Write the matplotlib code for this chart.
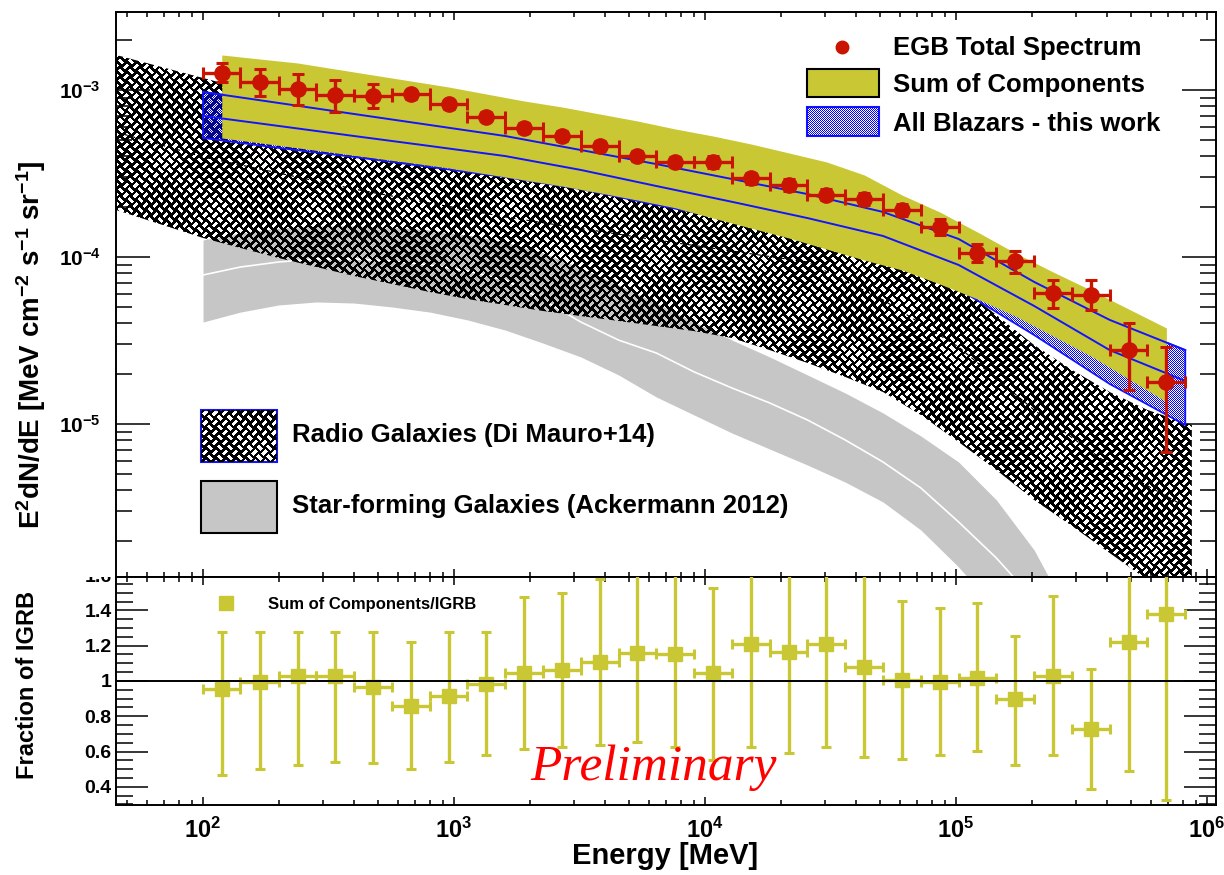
import numpy as np
import matplotlib
matplotlib.use("Agg")
import matplotlib.pyplot as plt
from matplotlib.patches import Rectangle
from matplotlib.ticker import LogLocator, MultipleLocator, FuncFormatter, NullFormatter

W, H = 1224, 875

plt.rcParams["font.family"] = ["Liberation Sans", "DejaVu Sans"]
plt.rcParams["font.weight"] = "bold"
plt.rcParams["mathtext.fontset"] = "custom"
plt.rcParams["mathtext.rm"] = "Liberation Sans:bold"
plt.rcParams["mathtext.bf"] = "Liberation Sans:bold"
plt.rcParams["mathtext.it"] = "Liberation Sans:bold:italic"
plt.rcParams["mathtext.sf"] = "Liberation Sans:bold"

OLIVE = "#c9c834"
RED = "#c81400"
BLUE = "#1414ff"
GREY = "#c6c6c6"

# EGB energy bins [MeV]
bin_edges = [100, 141, 200, 283, 400, 566, 800, 1131, 1600, 2263, 3200, 4525, 6400,
             9051, 12800, 18102, 25600, 36204, 51200, 72408, 102400, 144815, 204800,
             289631, 409600, 579262, 819200]

# EGB total spectrum, E^2 dN/dE [MeV cm^-2 s^-1 sr^-1]
egb_flux = [1.27e-3, 1.12e-3, 1.01e-3, 9.33e-4, 9.2e-4, 9.4e-4, 8.2e-4, 6.92e-4, 5.94e-4,
            5.31e-4, 4.62e-4, 4.03e-4, 3.69e-4, 3.69e-4, 2.96e-4, 2.70e-4, 2.35e-4,
            2.22e-4, 1.91e-4, 1.51e-4, 1.05e-4, 9.4e-5, 6.06e-5, 5.92e-5, 2.77e-5, 1.79e-5]
egb_lo = [1.12e-3, 9.2e-4, 8.1e-4, 7.4e-4, 7.8e-4, 8.8e-4, 7.7e-4, 6.5e-4, 5.55e-4,
          4.95e-4, 4.3e-4, 3.75e-4, 3.45e-4, 3.4e-4, 2.75e-4, 2.5e-4, 2.18e-4,
          2.05e-4, 1.75e-4, 1.36e-4, 9.3e-5, 8.0e-5, 4.95e-5, 4.8e-5, 1.6e-5, 6.8e-6]
egb_hi = [1.45e-3, 1.33e-3, 1.24e-3, 1.14e-3, 1.08e-3, 1.0e-3, 8.7e-4, 7.35e-4, 6.35e-4,
          5.7e-4, 4.95e-4, 4.3e-4, 3.95e-4, 4.0e-4, 3.2e-4, 2.92e-4, 2.54e-4,
          2.4e-4, 2.08e-4, 1.68e-4, 1.2e-4, 1.08e-4, 7.3e-5, 7.3e-5, 4.0e-5, 2.9e-5]

# sum of components band, at the EGB bin centres
sum_hi = [1.621e-3, 1.533e-3, 1.451e-3, 1.335e-3, 1.229e-3, 1.132e-3, 1.042e-3, 9.46e-4,
          8.59e-4, 7.91e-4, 7.18e-4, 6.52e-4, 5.84e-4, 5.30e-4, 4.75e-4, 4.20e-4, 3.71e-4,
          3.10e-4, 2.35e-4, 1.86e-4, 1.41e-4, 1.057e-4, 8.13e-5, 6.34e-5, 4.88e-5, 3.76e-5]
sum_lo = [5.16e-4, 4.82e-4, 4.50e-4, 4.20e-4, 3.92e-4, 3.66e-4, 3.41e-4, 3.14e-4, 2.89e-4,
          2.66e-4, 2.42e-4, 2.19e-4, 1.97e-4, 1.71e-4, 1.49e-4, 1.30e-4, 1.116e-4, 9.59e-5,
          8.36e-5, 6.89e-5, 5.60e-5, 4.43e-5, 3.36e-5, 2.55e-5, 1.86e-5, 1.354e-5]

# sum of components / IGRB
ratio = [0.953, 0.996, 1.028, 1.028, 0.964, 0.858, 0.917, 0.983, 1.047, 1.062, 1.106, 1.16,
         1.153, 1.043, 1.208, 1.166, 1.21, 1.078, 1.006, 0.996, 1.019, 0.896, 1.03, 0.728,
         1.223, 1.38]
ratio_lo = [0.467, 0.50, 0.524, 0.543, 0.534, 0.50, 0.543, 0.58, 0.613, 0.628, 0.637, 0.656,
            0.628, 0.553, 0.628, 0.594, 0.628, 0.571, 0.556, 0.58, 0.603, 0.524, 0.58, 0.388,
            0.49, 0.326]
ratio_hi = [1.28, 1.28, 1.28, 1.28, 1.28, 1.22, 1.28, 1.28, 1.478, 1.497, 1.58, 1.7,
            1.7, 1.525, 1.7, 1.7, 1.7, 1.7, 1.455, 1.412, 1.444, 1.255, 1.482, 1.066,
            1.7, 1.7]

# all blazars
blz_E = [100, 200, 400, 800, 1600, 3200, 6400, 12800, 25600, 51200, 102400, 204800,
         409600, 819200]
blz_hi = [9.73e-4, 8.36e-4, 7.18e-4, 6.17e-4, 5.30e-4, 4.37e-4, 3.60e-4, 2.93e-4, 2.38e-4,
          1.86e-4, 1.282e-4, 7.09e-5, 4.20e-5, 2.77e-5]
blz_mid = [6.99e-4, 6.09e-4, 5.30e-4, 4.62e-4, 4.02e-4, 3.32e-4, 2.66e-4, 2.14e-4, 1.71e-4,
           1.336e-4, 8.96e-5, 5.09e-5, 2.77e-5, 1.81e-5]
blz_lo = [5.16e-4, 4.50e-4, 3.97e-4, 3.46e-4, 3.01e-4, 2.55e-4, 2.05e-4, 1.666e-4, 1.318e-4,
          1.0e-4, 6.43e-5, 3.41e-5, 1.736e-5, 9.86e-6]

# radio galaxies
rg_E = [45] + bin_edges[:26] + [870000]
rg_hi = [1.621e-3, 1.180e-3, 1.028e-3, 8.96e-4, 7.80e-4, 6.89e-4, 6.00e-4, 5.23e-4, 4.56e-4,
         3.97e-4, 3.46e-4, 3.01e-4, 2.66e-4, 2.32e-4, 2.05e-4, 1.81e-4, 1.62e-4, 1.431e-4,
         1.247e-4, 1.071e-4, 8.83e-5, 6.80e-5, 4.49e-5, 2.97e-5, 2.11e-5, 1.554e-5,
         1.213e-5, 9.86e-6]
rg_lo = [1.912e-4, 1.30e-4, 1.132e-4, 9.86e-5, 8.71e-5, 7.69e-5, 6.89e-5, 6.17e-5, 5.60e-5,
         5.16e-5, 4.75e-5, 4.43e-5, 4.14e-5, 3.86e-5, 3.60e-5, 3.27e-5, 2.77e-5, 2.32e-5,
         1.912e-5, 1.554e-5, 1.132e-5, 7.80e-6, 5.30e-6, 3.51e-6, 2.45e-6, 1.688e-6,
         1.164e-6, 6.70e-7]
rg_mid_E = [45, 100, 400, 1600, 6400, 25600, 51200, 102400, 204800, 409600, 870000]
rg_mid = [5.60e-4, 3.97e-4, 2.55e-4, 1.737e-4, 1.264e-4, 9.33e-5, 5.53e-5, 2.89e-5,
          1.213e-5, 5.68e-6, 3.05e-6]

# star-forming galaxies
sf_E = bin_edges[:24]
sf_hi = [1.264e-4, 1.392e-4, 1.492e-4, 1.533e-4, 1.533e-4, 1.512e-4, 1.451e-4, 1.354e-4,
         1.230e-4, 1.057e-4, 8.59e-5, 6.80e-5, 5.30e-5, 4.08e-5, 3.18e-5, 2.52e-5, 1.966e-5,
         1.533e-5, 1.164e-5, 8.48e-6, 5.92e-6, 3.51e-6, 1.759e-6, 6.70e-7]
sf_mid = [7.80e-5, 8.71e-5, 9.33e-5, 9.73e-5, 9.73e-5, 9.46e-5, 8.96e-5, 8.24e-5, 7.28e-5,
          5.53e-5, 4.08e-5, 3.18e-5, 2.66e-5, 2.05e-5, 1.643e-5, 1.336e-5, 1.057e-5,
          8.02e-6, 5.92e-6, 4.14e-6, 2.59e-6, 1.576e-6, 8.83e-7, 5.09e-7]
sf_lo = [4.08e-5, 4.68e-5, 5.16e-5, 5.38e-5, 5.30e-5, 5.02e-5, 4.68e-5, 4.20e-5, 3.65e-5,
         3.05e-5, 2.52e-5, 1.966e-5, 1.451e-5, 1.132e-5, 8.83e-6, 7.08e-6, 5.68e-6, 4.49e-6,
         3.41e-6, 2.32e-6, 1.392e-6, 7.70e-7, 3.86e-7, 1.94e-7]

edges = np.array(bin_edges, float)
E = np.sqrt(edges[:-1] * edges[1:])
xerr = [E - edges[:-1], edges[1:] - E]
egb_flux = np.array(egb_flux)
ratio = np.array(ratio)


def weave_texture(h, w, cell=7.0, gap=3.0):
    # black basket-weave fill, transparent in the gaps
    yy, xx = np.mgrid[0:h, 0:w] + 0.5
    u = (xx + yy) / np.sqrt(2)
    v = (xx - yy) / np.sqrt(2)
    iu = np.floor(u / cell)
    iv = np.floor(v / cell)
    du = u - (iu + 0.5) * cell
    dv = v - (iv + 0.5) * cell
    along_u = (iu + iv) % 2 == 0
    hole = np.where(along_u,
                    (np.abs(dv) < gap / 2) & (np.abs(du) < cell / 2 - 0.6),
                    (np.abs(du) < gap / 2) & (np.abs(dv) < cell / 2 - 0.6))
    tex = np.zeros((h, w, 4))
    tex[..., 3] = np.where(hole, 0.0, 1.0)
    return tex


def mesh_texture(h, w):
    yy, xx = np.mgrid[0:h, 0:w]
    tex = np.zeros((h, w, 4))
    tex[..., 2] = 1.0
    tex[..., 3] = np.where((xx + yy) % 2 == 0, 1.0, 0.0)
    return tex


def px(x, y):
    return x / W, 1 - y / H


fig = plt.figure(figsize=(W / 100, H / 100), dpi=100)
ax = fig.add_axes([116 / W, 1 - 577 / H, 1100 / W, 565 / H])
ax2 = fig.add_axes([116 / W, 1 - 805 / H, 1100 / W, 228 / H])

ax.set_xscale("log")
ax.set_yscale("log")
ax.set_autoscale_on(False)
ax.set_xlim(45, 1.086e6)
ax.set_ylim(1.213e-6, 2.93e-3)

weave = weave_texture(565, 1100)
mesh = mesh_texture(565, 1100)


def textured(path_owner, tex, z, trans=None):
    im = ax.imshow(tex, extent=(0, 1, 0, 1), transform=ax.transAxes, aspect="auto",
                   interpolation="nearest", zorder=z)
    if trans is None:
        im.set_clip_path(path_owner)
    else:
        im.set_clip_path(path_owner.get_paths()[0], trans)
    return im


# star-forming galaxies
ax.fill_between(sf_E, sf_lo, sf_hi, color=GREY, lw=0, zorder=1)
ax.plot(sf_E, sf_mid, color="white", lw=1.2, zorder=1.5)

# radio galaxies
rg_poly = ax.fill_between(rg_E, rg_lo, rg_hi, facecolor="none", edgecolor="none")
textured(rg_poly, weave, 2, ax.transData)
ax.plot(rg_mid_E, rg_mid, color="black", lw=0.8, ls=(0, (4, 3)), zorder=2.5)

# all blazars
blz_poly = ax.fill_between(blz_E, blz_lo, blz_hi, facecolor="none", edgecolor=BLUE,
                           lw=1.3, zorder=3.2)
textured(blz_poly, mesh, 3, ax.transData)

# sum of components
ax.fill_between(E, sum_lo, sum_hi, color=OLIVE, lw=0, zorder=4)
ax.plot(blz_E, blz_hi, color=BLUE, lw=1.4, zorder=5)
ax.plot(blz_E, blz_mid, color=BLUE, lw=1.4, zorder=5)

# EGB data
ax.errorbar(E, egb_flux, xerr=xerr, yerr=[egb_flux - np.array(egb_lo), np.array(egb_hi) - egb_flux],
            fmt="o", color=RED, ms=11, elinewidth=2.4, capsize=4, capthick=2.2, zorder=6)

# legends inside the top panel
fs_leg = 18.5
ax.plot(*px(842, 47), "o", color=RED, ms=9, transform=fig.transFigure, zorder=7, clip_on=False)
fig.text(*px(893, 55), "EGB Total Spectrum", size=fs_leg, va="baseline")
ax.add_patch(Rectangle(px(807, 97), 72 / W, 28 / H, transform=fig.transFigure,
                       facecolor=OLIVE, edgecolor="black", lw=1.5, zorder=7))
fig.text(*px(893, 92), "Sum of Components", size=fs_leg, va="baseline")
blz_box = Rectangle(px(807, 136), 72 / W, 29 / H, transform=fig.transFigure,
                    facecolor="white", edgecolor=BLUE, lw=1.5, zorder=7)
ax.add_patch(blz_box)
textured(blz_box, mesh, 7.1)
fig.text(*px(893, 131), "All Blazars - this work", size=fs_leg, va="baseline")

rg_box = Rectangle(px(201, 462), 76 / W, 52 / H, transform=fig.transFigure,
                   facecolor="white", edgecolor=BLUE, lw=1.5, zorder=7)
ax.add_patch(rg_box)
textured(rg_box, weave, 7.1)
fig.text(*px(292, 442), "Radio Galaxies (Di Mauro+14)", size=fs_leg, va="baseline")
ax.add_patch(Rectangle(px(201, 533), 76 / W, 52 / H, transform=fig.transFigure,
                       facecolor=GREY, edgecolor="black", lw=1.5, zorder=7))
fig.text(*px(292, 513), "Star-forming Galaxies (Ackermann 2012)", size=fs_leg, va="baseline")

# ratio panel
ax2.set_xscale("log")
ax2.set_xlim(45, 1.086e6)
ax2.set_ylim(0.297, 1.589)
ax2.axhline(1, color="black", lw=1.4, zorder=5)
ax2.errorbar(E, ratio, xerr=xerr, yerr=[ratio - np.array(ratio_lo), np.array(ratio_hi) - ratio],
             fmt="s", color=OLIVE, ms=10, elinewidth=2.4, capsize=3.5, capthick=2.2, zorder=4)
ax2.plot(*px(226, 603), "s", color=OLIVE, ms=10, transform=fig.transFigure, clip_on=False)
fig.text(*px(268, 609), "Sum of Components/IGRB", size=12, va="baseline")
fig.text(*px(530, 780), "Preliminary", color="red", family="Liberation Serif",
         style="italic", weight="normal", size=37, va="baseline")

# axes styling
for a in (ax, ax2):
    a.xaxis.set_major_locator(LogLocator(base=10, numticks=20))
    a.xaxis.set_minor_locator(LogLocator(base=10, subs=np.arange(2, 10), numticks=20))
    a.xaxis.set_minor_formatter(NullFormatter())
    a.tick_params(which="both", direction="in", top=True, right=True, width=1.1)
    a.tick_params(axis="x", which="major", length=5.8)
    a.tick_params(axis="x", which="minor", length=3.6)
    for s in a.spines.values():
        s.set_linewidth(1.4)

ax.tick_params(axis="x", labelbottom=False)
ax.yaxis.set_major_locator(LogLocator(base=10, numticks=20))
ax.yaxis.set_minor_locator(LogLocator(base=10, subs=np.arange(2, 10), numticks=20))
ax.yaxis.set_minor_formatter(NullFormatter())
ax.yaxis.set_major_formatter(FuncFormatter(lambda v, p: r"$10^{%d}$" % int(round(np.log10(v)))))
ax.tick_params(axis="y", which="major", length=24.5, labelsize=15, pad=11)
ax.tick_params(axis="y", which="minor", length=11.5)

ax2.xaxis.set_major_formatter(FuncFormatter(lambda v, p: r"$10^{%d}$" % int(round(np.log10(v)))))
ax2.tick_params(axis="x", which="major", labelsize=17, pad=9)
ax2.yaxis.set_major_locator(MultipleLocator(0.2))
ax2.yaxis.set_minor_locator(MultipleLocator(0.05))
ax2.yaxis.set_major_formatter(FuncFormatter(lambda v, p: "%g" % round(v, 2)))
ax2.tick_params(axis="y", which="major", length=23, labelsize=14, pad=3)
ax2.tick_params(axis="y", which="minor", length=12)

# top label of the ratio axis, cut by the upper pad
fig.text(*px(112, 577), "1.6", size=14, ha="right", va="center")
fig.add_artist(Rectangle(px(50, 577), 64 / W, 20 / H, transform=fig.transFigure,
                         facecolor="white", edgecolor="none", zorder=10))

fig.text(*px(31, 345), r"E$^{2}$dN/dE [MeV cm$^{-2}$ s$^{-1}$ sr$^{-1}$]", size=20,
         rotation=90, ha="center", va="center")
fig.text(*px(28, 685), "Fraction of IGRB", size=17, rotation=90, ha="center", va="center")
fig.text(*px(665, 856), "Energy [MeV]", size=21, ha="center", va="center")

fig.savefig("out.png", dpi=100)
